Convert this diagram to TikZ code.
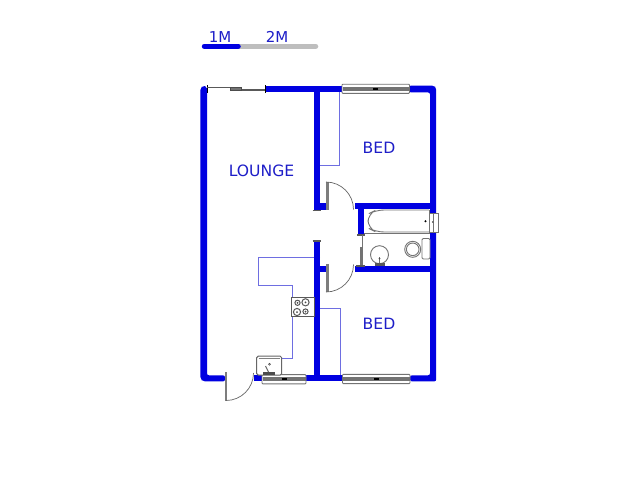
\documentclass[tikz,border=0pt]{standalone}
\usepackage{fontspec}
\setmainfont{DejaVu Sans}
\definecolor{wallblue}{RGB}{0,0,225}
\definecolor{txtblue}{RGB}{30,30,200}
\definecolor{linepurple}{RGB}{110,110,225}
\definecolor{scalegrey}{RGB}{190,190,190}
\definecolor{fixgrey}{RGB}{115,115,115}
\definecolor{doorgrey}{RGB}{125,125,125}
\tikzset{
  wall/.style={fill=wallblue,draw=none},
  lbl/.style={text=txtblue,font=\fontsize{15.6}{18}\selectfont,inner sep=0pt},
  sclbl/.style={text=txtblue,font=\fontsize{15}{18}\selectfont,inner sep=0pt},
  thinl/.style={draw=linepurple,line width=0.9pt},
  fixt/.style={draw=fixgrey,line width=0.9pt},
  dark/.style={draw=black!65,line width=1.1pt},
  leaf/.style={fill=doorgrey,draw=none},
  swing/.style={draw=black!60,line width=0.7pt},
  tick/.style={draw=black,line width=0.8pt},
}
\begin{document}
\begin{tikzpicture}[x=1pt,y=-1pt]
\useasboundingbox (0,0) rectangle (640,480);
\fill[white] (0,0) rectangle (640,480);
% scale bar
\draw[scalegrey,line width=5.5pt,line cap=round] (238,46.3) -- (315.5,46.3);
\draw[wallblue,line width=5.5pt,line cap=round] (204.5,46.3) -- (238,46.3);
\node[sclbl] (m1) at (220,37) {1M};
\node[sclbl] (m2) at (277,37) {2M};
% thin built-in lines
\draw[thinl] (320,165.7) -- (339.5,165.7) -- (339.5,92);
\draw[thinl] (320,308) -- (340.5,308) -- (340.5,375);
\draw[thinl] (320,257) -- (258.3,257) -- (258.3,285.7) -- (292.3,285.7) -- (292.3,358) -- (281.7,358);
% walls
\fill[wall,rounded corners=2pt] (207,92.4) -- (207,375.3) -- (225,375.3) -- (225,381.4) -- (203,381.4) -- (200.4,379) -- (200.4,88) -- (203,85.6) -- (207,86.5) -- cycle;
\fill[wall] (265,85.6) rectangle (342,92.4);
\fill[wall,rounded corners=2pt] (409,85.6) -- (434,85.6) -- (436.2,87.8) -- (436.2,381.4) -- (410,381.4) -- (410,375.3) -- (430,375.3) -- (430,92.4) -- (409,92.4) -- cycle;
\fill[wall] (313.8,90) rectangle (320.2,210.5);
\fill[wall] (320,203.3) rectangle (326,210.2);
\fill[wall] (313.8,241) rectangle (320.2,378);
\fill[wall] (320,265.6) rectangle (326,272);
\fill[wall] (354.8,202.8) rectangle (432,209.2);
\fill[wall] (357.8,203) rectangle (364.2,235);
\fill[wall] (354.8,265.8) rectangle (432,272.2);
\fill[wall] (253.5,375.3) rectangle (262,381.4);
\fill[wall] (306,375.3) rectangle (343,381.4);
% wall end caps
\draw[dark] (312.5,210.5) -- (321,210.5);
\draw[dark] (312.5,241) -- (321,241);
\draw[dark] (357,235) -- (365,235);
% sliding door, top
\draw[tick] (207,85) -- (207,93);
\draw[tick] (265,85) -- (265,93);
\draw[dark] (207,87.8) -- (231,87.8);
\draw[dark] (241,90) -- (265,90);
\fill[fixgrey,draw=black!70,line width=0.4pt] (230.5,87) rectangle (241.5,90.6);
% bedroom windows
\foreach \xa/\xb/\yc in {342/409.5/88.8,342.5/410/379,262/306/379.2}{
  \draw[fill=white,draw=black!55,line width=0.9pt,rounded corners=0.8pt] (\xa,\yc-4.6) rectangle (\xb,\yc+4.6);
  \fill[fixgrey] (\xa+0.5,\yc-2.2) rectangle (\xb-0.5,\yc+2.2);
  \fill[black] ({(\xa+\xb)/2-2.5},\yc-0.8) rectangle ({(\xa+\xb)/2+2.5},\yc+0.8);
}
% doors
\fill[leaf] (326,182) rectangle (328.5,210);
\draw[swing] (326,182) arc[start angle=-90,end angle=0,radius=27.5];
\fill[leaf] (326,264) rectangle (328.5,292);
\draw[swing] (326,292) arc[start angle=90,end angle=0,radius=27.5];
\fill[leaf] (224.8,372) rectangle (226.6,400.5);
\draw[swing] (226,400.5) arc[start angle=90,end angle=0,radius=27.5];
% bathroom door
\draw[fixgrey,line width=1.5pt] (362.5,235) -- (362.5,266);
\fill[fixgrey] (359.8,246.5) rectangle (362,265);
\draw[dark] (356,266) -- (365,266);
% bath
\draw[fixt] (364,233.6) -- (430,233.6);
\draw[fixt,rounded corners=8pt] (429,210) -- (376,210) -- (368,214) -- (368,228) -- (376,232) -- (429,232);
\draw[fixt] (429,210) -- (429,232);
\draw[fill=white,fixt] (429.5,213.2) rectangle (438,232);
\draw[fixt] (433,213.2) -- (433,232);
\fill[black] (425.5,221.3) circle (1.1pt);
\fill[black!70] (432.8,222) circle (0.9pt);
% basin
\draw[fixt] (379.5,254.7) circle (9pt);
\fill[fixgrey] (378.7,257) rectangle (380.2,264);
\fill[black!65] (374.5,262.5) rectangle (384.5,265.8);
\fill[black!70] (379.5,258.5) circle (1pt);
% toilet
\draw[fixt] (412.7,249.3) circle (8pt);
\draw[fixt] (412.7,249.3) circle (6.3pt);
\draw[fill=white,fixt,rounded corners=1.2pt] (422,238.5) rectangle (430,259);
% stove
\draw[fill=white,draw=black!65,line width=0.9pt] (291.7,297.3) rectangle (314,316.7);
\foreach \cx/\cy/\r in {297.5/302.8/2.6,305.5/302.3/3.6,297/312/3.6,305.5/311.5/2.6}{
  \draw[black!65,line width=1pt] (\cx,\cy) circle (\r pt);
  \fill[black!70] (\cx,\cy) circle (1pt);
}
% sink
\draw[fill=white,draw=black!60,line width=1pt,rounded corners=1.5pt] (256.7,356.2) rectangle (281.7,375);
\draw[draw=black!50,line width=0.5pt] (258.5,358.5) -- (280,358.5);
\draw[black!70,line width=0.6pt] (269.5,364.3) circle (1pt);
\draw[black!60,line width=0.9pt] (265.5,366) -- (268.5,372);
\fill[black!70] (263,372) rectangle (275,374.5);
% labels
\node[lbl] (lounge) at (261.5,170.8) {LOUNGE};
\node[lbl] (bed1) at (379,147.8) {BED};
\node[lbl] (bed2) at (379,323.8) {BED};
\end{tikzpicture}
\end{document}
